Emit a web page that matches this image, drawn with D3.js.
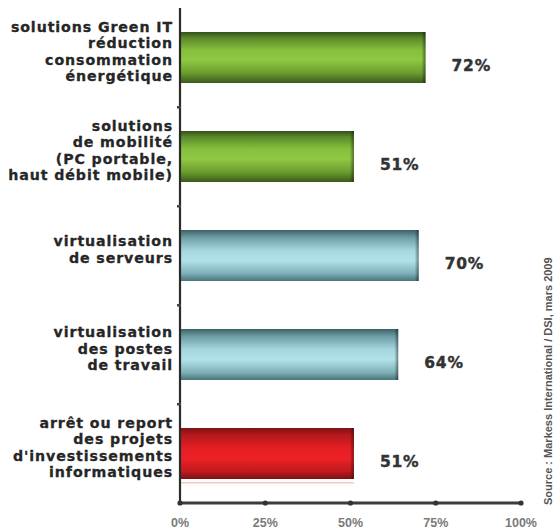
<!DOCTYPE html>
<html><head><meta charset="utf-8">
<script src="https://cdn.jsdelivr.net/npm/d3@7"></script>
<style>
html,body{margin:0;padding:0;background:#fff;}
svg{display:block;}
</style></head>
<body>
<script>
const categories = [
  ["solutions Green IT", "réduction", "consommation", "énergétique"],
  ["solutions", "de mobilité", "(PC portable,", "haut débit mobile)"],
  ["virtualisation", "de serveurs"],
  ["virtualisation", "des postes", "de travail"],
  ["arrêt ou report", "des projets", "d'investissements", "informatiques"]
];
const values = [72, 51, 70, 64, 51];
const colorGroups = ["green", "green", "cyan", "cyan", "red"];
const tickValues = [0, 25, 50, 75, 100];
const tickLabels = ["0%", "25%", "50%", "75%", "100%"];
const sourceText = "Source : Markess International / DSI, mars 2009";

const W = 555, H = 531;
const svg = d3.select("body").append("svg").attr("width", W).attr("height", H);

const defs = svg.append("defs");
const palettes = {
  green: [["0%","#34501c"],["12%","#5b8a2a"],["35%","#86bf3c"],["55%","#8fc842"],["80%","#6b9e2e"],["100%","#3c5a1e"]],
  cyan:  [["0%","#3d6168"],["15%","#6f9ea6"],["40%","#a6d6df"],["60%","#b3e1ea"],["85%","#7fb0b8"],["100%","#4a747a"]],
  red:   [["0%","#7e1214"],["15%","#b8191c"],["40%","#e41f24"],["60%","#ec2126"],["85%","#c01a1e"],["100%","#7a1012"]]
};
Object.entries(palettes).forEach(([k, stops]) => {
  const g = defs.append("linearGradient").attr("id", "g-" + k).attr("x1", 0).attr("y1", 0).attr("x2", 0).attr("y2", 1);
  stops.forEach(s => g.append("stop").attr("offset", s[0]).attr("stop-color", s[1]));
});
const endGrad = defs.append("linearGradient").attr("id", "g-end").attr("x1", 0).attr("y1", 0).attr("x2", 1).attr("y2", 0);
endGrad.append("stop").attr("offset", "0%").attr("stop-color", "#000").attr("stop-opacity", 0);
endGrad.append("stop").attr("offset", "100%").attr("stop-color", "#000").attr("stop-opacity", 0.45);

const x = d3.scaleLinear().domain([0, 100]).range([180, 521]);
const y = d3.scaleBand().domain(d3.range(values.length)).range([8, 503]).paddingInner(0.485).paddingOuter(0.2425);

// bars
const bars = svg.append("g").selectAll("g").data(values).join("g");
bars.append("rect")
  .attr("x", x(0)).attr("y", (d, i) => y(i))
  .attr("width", d => x(d) - x(0)).attr("height", y.bandwidth())
  .attr("fill", (d, i) => "url(#g-" + colorGroups[i] + ")");
bars.append("rect")
  .attr("x", d => x(d) - 4).attr("y", (d, i) => y(i))
  .attr("width", 4).attr("height", y.bandwidth())
  .attr("fill", "url(#g-end)");
bars.filter((d, i) => colorGroups[i] === "red").append("rect")
  .attr("x", x(0)).attr("y", (d, i) => y(4) + y.bandwidth() + 3)
  .attr("width", d => x(d) - x(0)).attr("height", 1.5)
  .attr("fill", "#f4c9b8");

const FONT = "'DejaVu Sans', Verdana, sans-serif";

// value labels
svg.append("g").selectAll("text").data(values).join("text")
  .attr("x", d => x(d) + 26).attr("y", (d, i) => y(i) + y.bandwidth() / 2 + 13)
  .attr("font-family", FONT)
  .attr("font-weight", "bold").attr("font-size", 15.5).attr("letter-spacing", 0.8)
  .attr("fill", "#333").attr("stroke", "#333").attr("stroke-width", 0.4)
  .text(d => d + "%");

// category labels
const lineH = 16.5;
const catG = svg.append("g").selectAll("text").data(categories).join("text")
  .attr("text-anchor", "end")
  .attr("font-family", FONT)
  .attr("font-weight", "bold").attr("font-size", 14.2).attr("letter-spacing", 0.9)
  .attr("fill", "#262626").attr("stroke", "#262626").attr("stroke-width", 0.3)
  .attr("transform", (d, i) => {
    const cy = y(i) + y.bandwidth() / 2 - 6;
    const top = cy - (d.length - 1) * lineH / 2 + 5;
    return `translate(173,${top})`;
  });
catG.selectAll("tspan").data(d => d).join("tspan")
  .attr("x", 0).attr("dy", (d, j) => j === 0 ? 0 : lineH)
  .text(d => d);

// y axis
const yAxis = svg.append("g");
yAxis.append("line").attr("x1", x(0)).attr("x2", x(0)).attr("y1", 8).attr("y2", 503)
  .attr("stroke", "#2b2b2b").attr("stroke-width", 2.2);
const bounds = d3.range(1, values.length).map(i => y(i) - y.step() * y.paddingInner() / 2);
yAxis.selectAll("rect.tk").data(bounds).join("rect")
  .attr("x", x(0) - 3).attr("y", d => d - 1).attr("width", 4).attr("height", 2.5)
  .attr("fill", "#444");

// x axis
const xAxis = svg.append("g");
xAxis.append("line").attr("x1", x(0)).attr("x2", x(100)).attr("y1", 503).attr("y2", 503)
  .attr("stroke", "#3c3c3c").attr("stroke-width", 3);
xAxis.selectAll("circle").data(tickValues).join("circle")
  .attr("cx", d => x(d)).attr("cy", 503).attr("r", 2.6).attr("fill", "#333");
xAxis.selectAll("text").data(tickValues).join("text")
  .attr("x", d => x(d)).attr("y", 527)
  .attr("text-anchor", "middle")
  .attr("font-family", "'Liberation Sans', Arial, sans-serif")
  .attr("font-weight", "bold").attr("font-size", 12.5)
  .attr("fill", "#7a7a7a")
  .text((d, i) => tickLabels[i]);

// rotated source text along the right edge
svg.append("text")
  .attr("transform", "translate(552,505) rotate(-90)")
  .attr("font-family", "'Liberation Sans', Arial, sans-serif")
  .attr("font-size", 11).attr("font-weight", "bold")
  .attr("fill", "#555")
  .text(sourceText);
</script>
</body></html>
